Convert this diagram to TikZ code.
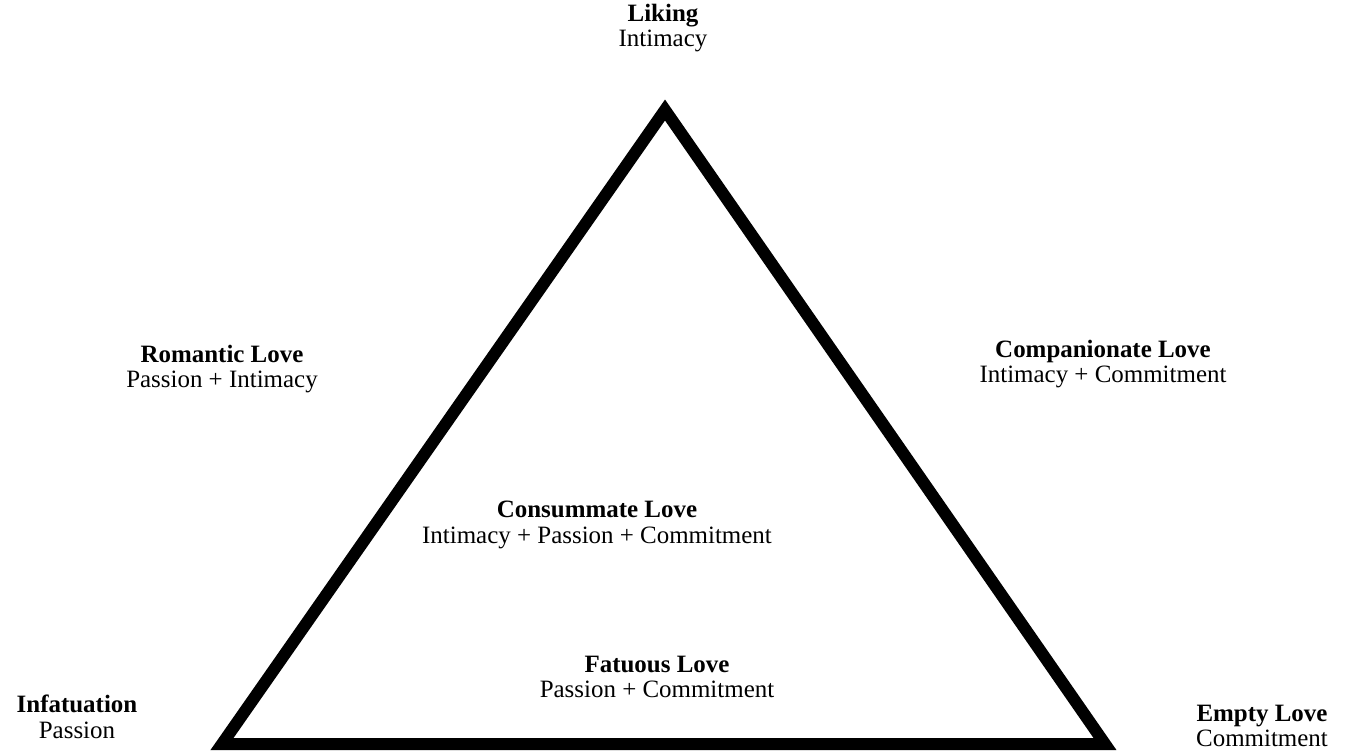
\documentclass[tikz,border=0pt]{standalone}
\usepackage{fontspec}
\setmainfont{Liberation Serif}
\usepackage{tikz}
\usetikzlibrary{positioning}

\begin{document}
\begin{tikzpicture}[
      x=0.02cm, y=-0.02cm,
      mylabel/.style={
         align=center,
         inner sep=0pt,
         font=\fontsize{14.2}{14.6}\selectfont},
      myedge/.style={
         line width=0.24cm,
         line join=miter}
      ]
      \useasboundingbox (0,0) rectangle (1346,751);
      \coordinate (top) at (665,110);
      \coordinate (left) at (222,744);
      \coordinate (right) at (1105,744);
      \draw[myedge] (top) -- (right) -- (left) -- cycle;
    \foreach \n/\x/\y/\title/\txt in {% name/x/y/title/components
      liking/663/28/Liking/Intimacy,
      romantic/222/369/Romantic Love/Passion + Intimacy,
      companionate/1103/364/Companionate Love/Intimacy + Commitment,
      consummate/597/525/Consummate Love/Intimacy + Passion + Commitment,
      fatuous/657/677/Fatuous Love/Passion + Commitment,
      infatuation/77/717/Infatuation/Passion,
      empty/1262/726/Empty Love/Commitment}
       \node[mylabel] (\n) at (\x,\y) {\textbf{\title}\\\txt};
\end{tikzpicture}
\end{document}
